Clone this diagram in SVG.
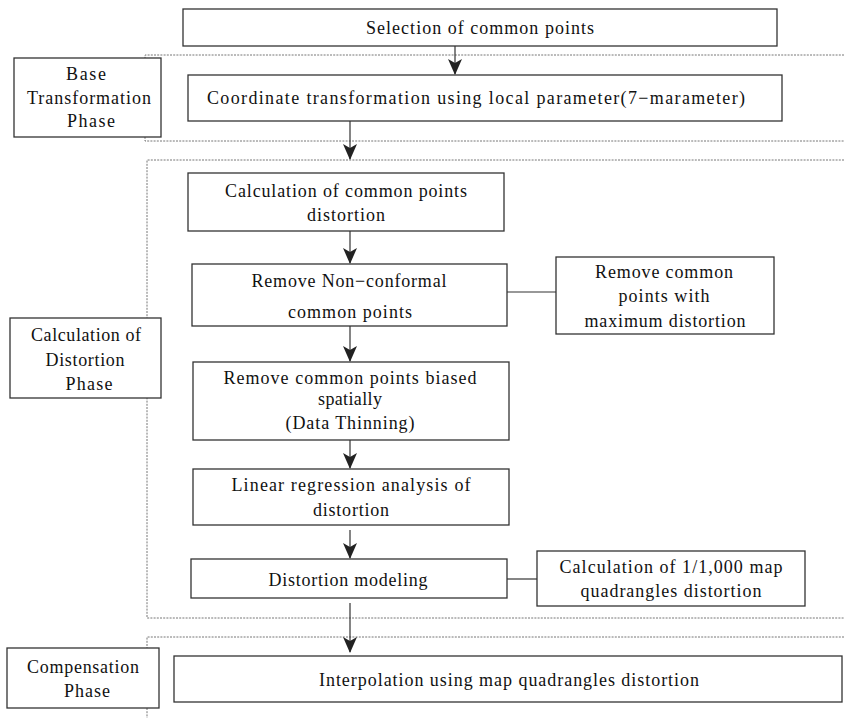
<svg xmlns="http://www.w3.org/2000/svg" width="844" height="718" viewBox="0 0 844 718">
<style>
.box{fill:#fff;stroke:#333;stroke-width:1.3}
.dot{fill:none;stroke:#777;stroke-width:1;stroke-dasharray:2,1.2}
.ln{fill:none;stroke:#333;stroke-width:1.2}
text{font-family:"Liberation Serif","Times New Roman",serif;font-size:18px;fill:#111;text-anchor:middle}
</style>
<defs>
<marker id="ah" viewBox="0 0 16 14" refX="15" refY="7" markerWidth="16" markerHeight="14" markerUnits="userSpaceOnUse" orient="auto">
<path d="M0,0 L16,7 L0,14 L4,7 Z" fill="#222"/>
</marker>
</defs>
<rect width="844" height="718" fill="#fff"/>

<g id="sections">
<path class="dot" d="M844,55 H145 V141 H844"/>
<path class="dot" d="M844,160 H147 V618 H844"/>
<path class="dot" d="M844,637 H147 V718"/>
</g>

<g id="connectors">
<line class="ln" x1="455" y1="46" x2="455" y2="74" marker-end="url(#ah)"/>
<line class="ln" x1="350" y1="121" x2="350" y2="159" marker-end="url(#ah)"/>
<line class="ln" x1="350" y1="231" x2="350" y2="263" marker-end="url(#ah)"/>
<line class="ln" x1="350" y1="326" x2="350" y2="361" marker-end="url(#ah)"/>
<line class="ln" x1="350" y1="440" x2="350" y2="468" marker-end="url(#ah)"/>
<line class="ln" x1="350" y1="530" x2="350" y2="558" marker-end="url(#ah)"/>
<line class="ln" x1="350" y1="603" x2="350" y2="652" marker-end="url(#ah)"/>
<line class="ln" x1="507" y1="292" x2="556" y2="292"/>
<line class="ln" x1="507" y1="579" x2="537" y2="579"/>
</g>

<g id="n-selection">
<rect class="box" x="183" y="9" width="594" height="37"/>
<text x="480" y="34" textLength="228">Selection of common points</text>
</g>

<g id="phase-base">
<rect class="box" x="14" y="58" width="147" height="79"/>
<text x="86" y="80" textLength="40">Base</text>
<text x="89" y="104" textLength="124">Transformation</text>
<text x="91" y="127" textLength="48">Phase</text>
</g>

<g id="n-coord">
<rect class="box" x="188" y="75" width="594" height="46"/>
<text x="476" y="104" textLength="538">Coordinate transformation using local parameter(7−marameter)</text>
</g>

<g id="n-calc-common">
<rect class="box" x="188" y="173" width="316" height="58"/>
<text x="346" y="197" textLength="242">Calculation of common points</text>
<text x="346" y="221" textLength="78">distortion</text>
</g>

<g id="n-remove-nonconf">
<rect class="box" x="192" y="264" width="315" height="62"/>
<text x="349" y="287" textLength="195">Remove Non−conformal</text>
<text x="350" y="318" textLength="124">common points</text>
</g>

<g id="n-remove-max">
<rect class="box" x="556" y="257" width="218" height="77"/>
<text x="664" y="278" textLength="138">Remove common</text>
<text x="664" y="302" textLength="91">points with</text>
<text x="665" y="327" textLength="161">maximum distortion</text>
</g>

<g id="phase-distortion">
<rect class="box" x="10" y="318" width="151" height="80"/>
<text x="86" y="341" textLength="110">Calculation of</text>
<text x="85" y="366" textLength="79">Distortion</text>
<text x="89" y="390" textLength="47">Phase</text>
</g>

<g id="n-remove-biased">
<rect class="box" x="193" y="362" width="316" height="78"/>
<text x="350" y="384" textLength="253">Remove common points biased</text>
<text x="350" y="405" textLength="64">spatially</text>
<text x="350" y="429" textLength="129">(Data Thinning)</text>
</g>

<g id="n-linear">
<rect class="box" x="193" y="469" width="316" height="56"/>
<text x="351" y="491" textLength="239">Linear regression analysis of</text>
<text x="351" y="516" textLength="76">distortion</text>
</g>

<g id="n-modeling">
<rect class="box" x="191" y="559" width="316" height="39"/>
<text x="348" y="586" textLength="159">Distortion modeling</text>
</g>

<g id="n-calc-map">
<rect class="box" x="537" y="551" width="268" height="55"/>
<text x="671" y="573" textLength="223">Calculation of 1/1,000 map</text>
<text x="671" y="597" textLength="181">quadrangles distortion</text>
</g>

<g id="phase-compensation">
<rect class="box" x="7" y="648" width="152" height="60"/>
<text x="83" y="673" textLength="112">Compensation</text>
<text x="87" y="697" textLength="46">Phase</text>
</g>

<g id="n-interp">
<rect class="box" x="174" y="656" width="668" height="46"/>
<text x="509" y="686" textLength="380">Interpolation using map quadrangles distortion</text>
</g>
</svg>
